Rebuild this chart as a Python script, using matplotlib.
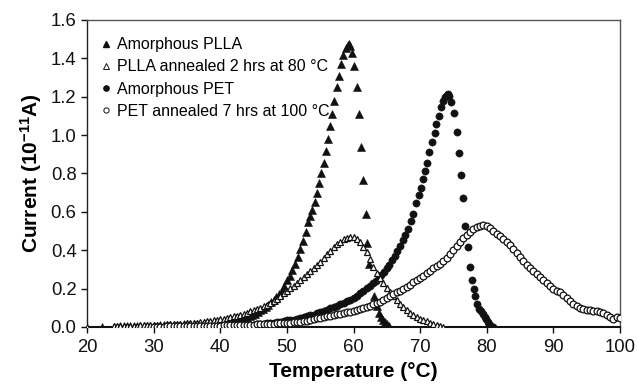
import matplotlib
matplotlib.use("Agg")
import matplotlib.pyplot as plt
from matplotlib.lines import Line2D

plt.rcParams['font.family'] = ['Liberation Sans', 'DejaVu Sans']
plt.rcParams['mathtext.fontset'] = 'custom'
plt.rcParams['mathtext.rm'] = 'Liberation Sans:bold'
plt.rcParams['mathtext.default'] = 'rm'

# Amorphous PLLA (filled triangles)
pla_am_t = [22.2,
            24.0, 24.5, 25.0, 25.5, 26.0, 26.5, 27.0, 27.5, 28.0, 28.5, 29.0, 29.5,
            30.0, 30.5, 31.0, 31.5, 32.0, 32.5, 33.0, 33.5, 34.0, 34.5, 35.0, 35.5,
            36.0, 36.5, 37.0, 37.5, 38.0, 38.5, 39.0, 39.5, 40.0, 40.5, 41.0, 41.5,
            42.0, 42.5, 43.0, 43.5,
            44.0, 44.4, 44.8, 45.2, 45.6, 46.0, 46.4, 46.8, 47.2, 47.6, 48.0, 48.4,
            48.8, 49.2, 49.6, 50.0, 50.4, 50.8, 51.2, 51.6, 52.0, 52.4, 52.8, 53.2,
            53.5, 53.8, 54.2, 54.5, 54.8, 55.1, 55.5, 55.8, 56.2, 56.5, 56.8, 57.1,
            57.5, 57.8, 58.1, 58.4, 58.8, 59.1, 59.3,
            59.5, 59.8, 60.1, 60.5, 60.8, 61.2, 61.5, 61.9, 62.1, 62.4, 63.1, 63.5,
            63.9, 64.2, 64.5, 64.8, 65.1, 65.4]
pla_am_i = [0.0,
            .002, .002, .003, .003, .003, .004, .004, .004, .005, .005, .006, .006,
            .007, .007, .008, .008, .009, .010, .010, .011, .012, .013, .014, .015,
            .016, .017, .018, .019, .020, .021, .023, .024, .026, .028, .030, .032,
            .035, .038, .042, .047,
            .052, .057, .063, .070, .078, .087, .096, .106, .117, .129, .142, .156,
            .172, .190, .215, .243, .268, .297, .330, .365, .405, .450, .497, .545,
            .580, .610, .652, .700, .750, .800, .857, .918, .980, 1.047, 1.110, 1.180,
            1.250, 1.310, 1.370, 1.420, 1.455, 1.470, 1.475,
            1.465, 1.430, 1.360, 1.250, 1.108, 0.940, 0.764, 0.590, 0.440, 0.327, 0.162, 0.110,
            0.072, 0.050, 0.035, 0.024, 0.013, 0.006]

# PLLA annealed 2 hrs at 80 C (open triangles)
pla_an_t = [20.0,
            24.0, 24.5, 25.0, 25.5, 26.0, 26.5, 27.0, 27.5, 28.0, 28.5, 29.0, 29.5,
            30.0, 30.5, 31.0, 31.5, 32.0, 32.5, 33.0, 33.5, 34.0, 34.5, 35.0, 35.5,
            36.0, 36.5, 37.0, 37.5, 38.0, 38.5, 39.0, 39.5, 40.0, 40.5, 41.0, 41.5,
            42.0, 42.5, 43.0, 43.5, 44.0, 44.5, 45.0, 45.5, 46.0, 46.5, 47.0, 47.5,
            48.0, 48.5, 49.0, 49.5, 50.0, 50.5, 51.0, 51.5, 52.0, 52.5, 53.0, 53.5,
            54.0, 54.5, 55.0, 55.5, 56.0, 56.5, 57.0, 57.5, 58.0, 58.5, 59.0, 59.5,
            60.0, 60.5, 61.0, 61.5, 62.0, 62.5, 63.0, 63.5, 64.0, 64.5, 65.0, 65.5,
            66.0, 66.5, 67.0, 67.5, 68.0, 68.5, 69.0, 69.5, 70.0, 70.5, 71.0, 71.5,
            72.0, 72.5, 73.0, 73.5]
pla_an_i = [0.0,
            .004, .004, .005, .005, .006, .006, .007, .007, .008, .008, .009, .009,
            .010, .011, .012, .012, .013, .014, .015, .016, .017, .018, .019, .020,
            .022, .023, .025, .027, .029, .031, .034, .037, .040, .043, .047, .051,
            .055, .059, .064, .069, .075, .081, .087, .093, .100, .107, .115, .124,
            .135, .148, .162, .176, .190, .202, .215, .230, .245, .260, .275, .290,
            .305, .322, .340, .360, .380, .398, .415, .430, .445, .456, .465, .471,
            .470, .460, .443, .418, .390, .352, .315, .283, .255, .230, .205, .183,
            .162, .140, .120, .103, .088, .075, .063, .053, .044, .036, .029, .022,
            .016, .011, .006, .002]

# Amorphous PET (filled circles)
pet_am_t = [30.0, 30.5, 31.0, 31.5, 32.0, 32.5, 33.0, 33.5, 34.0, 34.5, 35.0, 35.5,
            36.0, 36.5, 37.0, 37.5, 38.0, 38.5, 39.0, 39.5, 40.0, 40.5, 41.0, 41.5,
            42.0, 42.5, 43.0, 43.5, 44.0, 44.5, 45.0, 45.5, 46.0, 46.5, 47.0, 47.5,
            48.0, 48.5, 49.0, 49.5, 50.0, 50.5, 51.0, 51.5, 52.0, 52.5, 53.0, 53.5,
            54.0, 54.5, 55.0, 55.5, 56.0, 56.5, 57.0, 57.5, 58.0, 58.5, 59.0, 59.5,
            60.0, 60.5, 61.0, 61.5, 62.0, 62.5,
            63.0, 63.4, 63.8, 64.2, 64.6, 65.0, 65.4, 65.8, 66.2, 66.6, 67.0, 67.4,
            67.8, 68.2, 68.6, 69.0, 69.4, 69.8, 70.2, 70.5, 70.8, 71.1, 71.4, 71.8,
            72.2, 72.4, 72.8, 73.1, 73.5, 73.8, 74.0, 74.2, 74.4, 74.7, 75.1, 75.6,
            75.9, 76.1, 76.4, 76.8, 77.2, 77.5, 77.8, 78.1, 78.3, 78.6, 78.9, 79.1,
            79.4, 79.7, 79.9, 80.2, 80.4, 80.7, 80.9]
pet_am_i = [.001, .001, .001, .001, .001, .001, .001, .002, .002, .002, .002, .002,
            .002, .003, .003, .003, .003, .004, .004, .004, .004, .005, .005, .006,
            .007, .007, .008, .009, .010, .011, .012, .014, .015, .017, .019, .021,
            .023, .025, .028, .031, .034, .036, .039, .042, .045, .050, .055, .060,
            .065, .071, .077, .083, .090, .097, .104, .111, .118, .125, .133, .142,
            .152, .163, .175, .188, .201, .215,
            .229, .242, .256, .270, .287, .305, .325, .347, .370, .396, .423, .452,
            .482, .513, .550, .590, .645, .687, .725, .769, .814, .856, .913, .965,
            1.009, 1.057, 1.100, 1.144, 1.180, 1.200, 1.210, 1.214, 1.205, 1.174, 1.113, 1.017,
            .908, .791, .670, .527, .417, .313, .244, .200, .160, .122, .096, .082,
            .068, .052, .040, .026, .016, .007, .001]

# PET annealed 7 hrs at 100 C (open circles)
pet_an_t = [30.0, 30.5, 31.0, 31.5, 32.0, 32.5, 33.0, 33.5, 34.0, 34.5, 35.0, 35.5,
            36.0, 36.5, 37.0, 37.5, 38.0, 38.5, 39.0, 39.5, 40.0, 40.5, 41.0, 41.5,
            42.0, 42.5, 43.0, 43.5, 44.0, 44.5, 45.0, 45.5, 46.0, 46.5, 47.0, 47.5,
            48.0, 48.5, 49.0, 49.5, 50.0, 50.5, 51.0, 51.5, 52.0, 52.5, 53.0, 53.5,
            54.0, 54.5, 55.0, 55.5, 56.0, 56.5, 57.0, 57.5, 58.0, 58.5, 59.0, 59.5,
            60.0, 60.5, 61.0, 61.5, 62.0, 62.5, 63.0, 63.5, 64.0, 64.5, 65.0, 65.5,
            66.0, 66.5, 67.0, 67.5, 68.0, 68.5, 69.0, 69.5, 70.0, 70.5, 71.0, 71.5,
            72.0, 72.5, 73.0, 73.5, 74.0, 74.5, 75.0, 75.5, 76.0, 76.5, 77.0, 77.5,
            78.0, 78.5, 79.0, 79.5, 80.0, 80.5, 81.0, 81.5, 82.0, 82.5, 83.0, 83.5,
            84.0, 84.5, 85.0, 85.5, 86.0, 86.5, 87.0, 87.5, 88.0, 88.5, 89.0, 89.5,
            90.0, 90.5, 91.0, 91.5, 92.0, 92.5, 93.0, 93.5, 94.0, 94.5, 95.0, 95.5,
            96.0, 96.5, 97.0, 97.5, 98.0, 98.5, 99.0, 99.5, 100.0]
pet_an_i = [.002, .002, .002, .002, .003, .003, .003, .003, .004, .004, .004, .004,
            .005, .005, .005, .006, .006, .006, .007, .007, .007, .008, .008, .009,
            .009, .010, .010, .011, .011, .012, .012, .013, .014, .015, .016, .017,
            .018, .019, .020, .021, .022, .023, .024, .025, .027, .030, .033, .037,
            .041, .045, .049, .052, .055, .058, .062, .066, .070, .073, .076, .079,
            .083, .088, .093, .099, .105, .112, .118, .124, .130, .140, .150, .160,
            .170, .180, .190, .200, .210, .221, .232, .243, .255, .267, .280, .292,
            .305, .318, .330, .345, .360, .380, .400, .422, .443, .462, .480, .496,
            .510, .520, .528, .532, .527, .515, .502, .487, .472, .458, .442, .425,
            .405, .385, .365, .345, .325, .308, .290, .275, .260, .244, .228, .214,
            .200, .190, .180, .165, .150, .135, .120, .110, .100, .095, .090, .087,
            .085, .083, .080, .075, .065, .050, .044, .052, .048]

ink = '#111111'

fig = plt.figure(figsize=(6.37, 3.89), dpi=100)
ax = fig.add_axes([0.1366, 0.1594, 0.8367, 0.7892])

ax.plot(pla_am_t, pla_am_i, linestyle='none', marker='^', ms=5.2,
        mfc=ink, mec=ink, mew=0.4, zorder=3)
ax.plot(pla_an_t, pla_an_i, linestyle='none', marker='^', ms=4.8,
        mfc='white', mec=ink, mew=0.9, zorder=4)
ax.plot(pet_am_t, pet_am_i, linestyle='none', marker='o', ms=5.2,
        mfc=ink, mec=ink, mew=0.4, zorder=3)
ax.plot(pet_an_t, pet_an_i, linestyle='none', marker='o', ms=4.9,
        mfc='white', mec=ink, mew=0.9, zorder=5)

ax.set_xlim(20, 100)
ax.set_ylim(0, 1.6)
ax.set_xticks(range(20, 101, 10))
ax.set_yticks([0.0, 0.2, 0.4, 0.6, 0.8, 1.0, 1.2, 1.4, 1.6])
ax.set_yticklabels(['%.1f' % v for v in ax.get_yticks()])
ax.tick_params(axis='x', pad=5)
ax.tick_params(direction='out', length=4, width=1, labelsize=13.3, colors='#111111')

for side in ['top', 'right']:
    ax.spines[side].set_color('#555555')
    ax.spines[side].set_linewidth(1.0)
ax.spines['left'].set_color('#222222')
ax.spines['left'].set_linewidth(1.0)
ax.spines['bottom'].set_color('#111111')
ax.spines['bottom'].set_linewidth(1.5)

ax.set_xlabel('Temperature (\u00b0C)', fontsize=15, fontweight='bold', labelpad=4)
ax.set_ylabel('Current (10$^{-11}$A)', fontsize=15, fontweight='bold', labelpad=5)

handles = [
    Line2D([], [], linestyle='none', marker='^', ms=3.8, mfc=ink, mec=ink),
    Line2D([], [], linestyle='none', marker='^', ms=3.8, mfc='white', mec=ink, mew=0.7),
    Line2D([], [], linestyle='none', marker='o', ms=3.8, mfc=ink, mec=ink),
    Line2D([], [], linestyle='none', marker='o', ms=3.8, mfc='white', mec=ink, mew=0.7),
]
labels = ['Amorphous PLLA', 'PLLA annealed 2 hrs at 80 \u00b0C',
          'Amorphous PET', 'PET annealed 7 hrs at 100 \u00b0C']
ax.legend(handles, labels, loc='upper left', bbox_to_anchor=(0.005, 0.975),
          frameon=False, fontsize=11.5, handlelength=0.8, handletextpad=0.3,
          labelspacing=0.45, borderaxespad=0.2)

fig.savefig('out.png', dpi=100)
